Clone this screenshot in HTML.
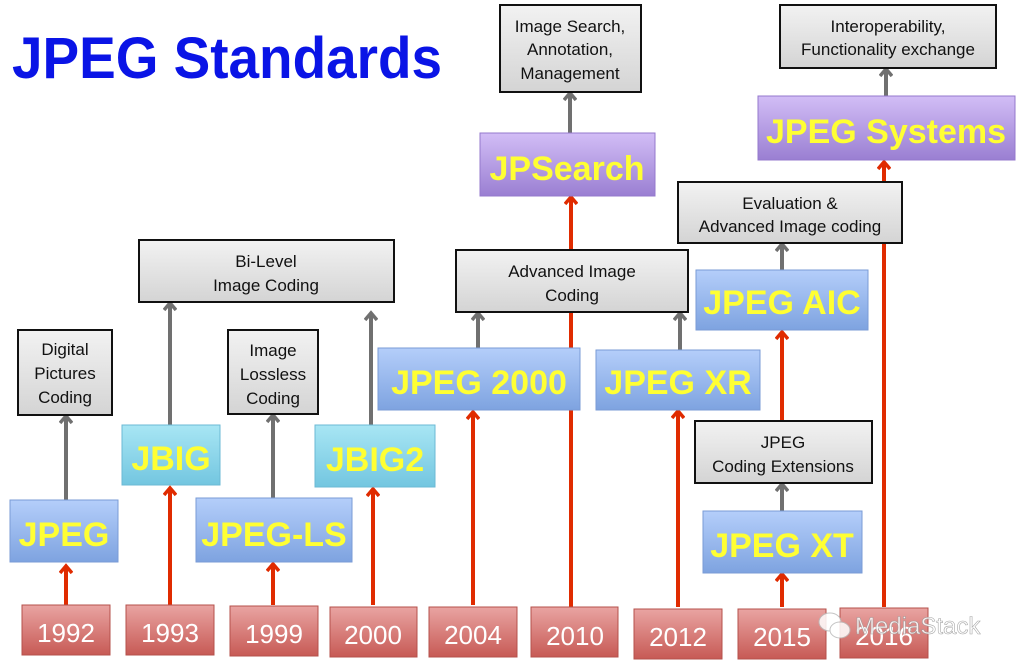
<!DOCTYPE html>
<html><head><meta charset="utf-8"><style>
html,body{margin:0;padding:0;background:#fff;}
svg{display:block;font-family:"Liberation Sans",sans-serif;}
</style></head><body>
<svg width="1024" height="669" viewBox="0 0 1024 669" xmlns="http://www.w3.org/2000/svg">
<defs>
<linearGradient id="bl" x1="0" y1="0" x2="0" y2="1"><stop offset="0" stop-color="#b4cefa"/><stop offset="1" stop-color="#7ea3e0"/></linearGradient>
<linearGradient id="cy" x1="0" y1="0" x2="0" y2="1"><stop offset="0" stop-color="#a8e6f4"/><stop offset="1" stop-color="#73c6e0"/></linearGradient>
<linearGradient id="pu" x1="0" y1="0" x2="0" y2="1"><stop offset="0" stop-color="#d2bdf6"/><stop offset="1" stop-color="#9a7fd2"/></linearGradient>
<linearGradient id="rd" x1="0" y1="0" x2="0" y2="1"><stop offset="0" stop-color="#e9a4a2"/><stop offset="1" stop-color="#c75a55"/></linearGradient>
<linearGradient id="gr" x1="0" y1="0" x2="0" y2="1"><stop offset="0" stop-color="#f2f2f2"/><stop offset="1" stop-color="#d4d4d4"/></linearGradient>
<marker id="ar" markerWidth="12" markerHeight="14" refX="9" refY="7" orient="auto" markerUnits="userSpaceOnUse" viewBox="0 0 12 14"><path d="M2,1 L9,7 L2,13" fill="none" stroke="#e02b00" stroke-width="3.5"/></marker>
<marker id="ag" markerWidth="12" markerHeight="14" refX="9" refY="7" orient="auto" markerUnits="userSpaceOnUse" viewBox="0 0 12 14"><path d="M2,1 L9,7 L2,13" fill="none" stroke="#707070" stroke-width="3.5"/></marker>
</defs>

<text x="12" y="78" font-size="58" font-weight="bold" fill="#0a14e6" textLength="430" lengthAdjust="spacingAndGlyphs">JPEG Standards</text>

<g stroke="#e02b00" stroke-width="4" fill="none">
<line x1="66" y1="605" x2="66" y2="566" marker-end="url(#ar)"/>
<line x1="170" y1="605" x2="170" y2="488" marker-end="url(#ar)"/>
<line x1="273" y1="605" x2="273" y2="564" marker-end="url(#ar)"/>
<line x1="373" y1="605" x2="373" y2="489" marker-end="url(#ar)"/>
<line x1="473" y1="605" x2="473" y2="412" marker-end="url(#ar)"/>
<line x1="571" y1="607" x2="571" y2="197" marker-end="url(#ar)"/>
<line x1="678" y1="607" x2="678" y2="411" marker-end="url(#ar)"/>
<line x1="782" y1="607" x2="782" y2="574" marker-end="url(#ar)"/>
<line x1="782" y1="421" x2="782" y2="332" marker-end="url(#ar)"/>
<line x1="884" y1="607" x2="884" y2="162" marker-end="url(#ar)"/>
</g>
<g stroke="#707070" stroke-width="4" fill="none">
<line x1="66" y1="500" x2="66" y2="416" marker-end="url(#ag)"/>
<line x1="170" y1="425" x2="170" y2="303" marker-end="url(#ag)"/>
<line x1="273" y1="498" x2="273" y2="415" marker-end="url(#ag)"/>
<line x1="371" y1="425" x2="371" y2="313" marker-end="url(#ag)"/>
<line x1="478" y1="348" x2="478" y2="313" marker-end="url(#ag)"/>
<line x1="680" y1="350" x2="680" y2="313" marker-end="url(#ag)"/>
<line x1="570" y1="133" x2="570" y2="93" marker-end="url(#ag)"/>
<line x1="886" y1="96" x2="886" y2="69" marker-end="url(#ag)"/>
<line x1="782" y1="272" x2="782" y2="244" marker-end="url(#ag)"/>
<line x1="782" y1="511" x2="782" y2="484" marker-end="url(#ag)"/>
</g>

<g fill="url(#gr)" stroke="#111" stroke-width="2">
<rect x="18" y="330" width="94" height="85"/>
<rect x="139" y="240" width="255" height="62"/>
<rect x="228" y="330" width="90" height="84"/>
<rect x="456" y="250" width="232" height="62"/>
<rect x="500" y="5" width="141" height="87"/>
<rect x="780" y="5" width="216" height="63"/>
<rect x="678" y="182" width="224" height="61"/>
<rect x="695" y="421" width="177" height="62"/>
</g>
<g font-size="17" fill="#111" text-anchor="middle">
<text x="65" y="355">Digital</text><text x="65" y="379">Pictures</text><text x="65" y="403">Coding</text>
<text x="266" y="267">Bi-Level</text><text x="266" y="291">Image Coding</text>
<text x="273" y="356">Image</text><text x="273" y="380">Lossless</text><text x="273" y="404">Coding</text>
<text x="572" y="277">Advanced Image</text><text x="572" y="301">Coding</text>
<text x="570" y="32">Image Search,</text><text x="570" y="55">Annotation,</text><text x="570" y="79">Management</text>
<text x="888" y="32">Interoperability,</text><text x="888" y="55">Functionality exchange</text>
<text x="790" y="209">Evaluation &amp;</text><text x="790" y="232">Advanced Image coding</text>
<text x="783" y="448">JPEG</text><text x="783" y="472">Coding Extensions</text>
</g>

<g stroke-width="1">
<rect x="10" y="500" width="108" height="62" fill="url(#bl)" stroke="#7a9bd6"/>
<rect x="122" y="425" width="98" height="60" fill="url(#cy)" stroke="#6bb9d4"/>
<rect x="196" y="498" width="156" height="64" fill="url(#bl)" stroke="#7a9bd6"/>
<rect x="315" y="425" width="120" height="62" fill="url(#cy)" stroke="#6bb9d4"/>
<rect x="378" y="348" width="202" height="62" fill="url(#bl)" stroke="#7a9bd6"/>
<rect x="596" y="350" width="164" height="60" fill="url(#bl)" stroke="#7a9bd6"/>
<rect x="696" y="270" width="172" height="60" fill="url(#bl)" stroke="#7a9bd6"/>
<rect x="703" y="511" width="159" height="62" fill="url(#bl)" stroke="#7a9bd6"/>
<rect x="480" y="133" width="175" height="63" fill="url(#pu)" stroke="#9478cc"/>
<rect x="758" y="96" width="257" height="64" fill="url(#pu)" stroke="#9478cc"/>
</g>
<g font-size="34" font-weight="bold" fill="#ffff33" text-anchor="middle">
<text x="64" y="546">JPEG</text>
<text x="171" y="470">JBIG</text>
<text x="274" y="546">JPEG-LS</text>
<text x="375" y="471">JBIG2</text>
<text x="479" y="394">JPEG 2000</text>
<text x="678" y="394">JPEG XR</text>
<text x="782" y="314">JPEG AIC</text>
<text x="782" y="557">JPEG XT</text>
<text x="567" y="180">JPSearch</text>
<text x="886" y="143">JPEG Systems</text>
</g>

<g fill="url(#rd)" stroke="#b5504b" stroke-width="1">
<rect x="22" y="605" width="88" height="50"/>
<rect x="126" y="605" width="88" height="50"/>
<rect x="230" y="606" width="88" height="50"/>
<rect x="330" y="607" width="87" height="50"/>
<rect x="429" y="607" width="88" height="50"/>
<rect x="531" y="607" width="87" height="50"/>
<rect x="634" y="609" width="88" height="50"/>
<rect x="738" y="609" width="88" height="50"/>
<rect x="840" y="608" width="88" height="50"/>
</g>
<g font-size="26" fill="#fff" text-anchor="middle">
<text x="66" y="642">1992</text>
<text x="170" y="642">1993</text>
<text x="274" y="643">1999</text>
<text x="373" y="644">2000</text>
<text x="473" y="644">2004</text>
<text x="575" y="645">2010</text>
<text x="678" y="646">2012</text>
<text x="782" y="646">2015</text>
<text x="884" y="645">2016</text>
</g>
<g opacity="0.85">
<ellipse cx="830" cy="622" rx="11" ry="9" fill="#fff" stroke="#bbb"/>
<ellipse cx="840" cy="630" rx="10" ry="8" fill="#fff" stroke="#bbb"/>
<text x="855" y="634" font-size="24" fill="#fff" stroke="#999" stroke-width="0.6">MediaStack</text>
</g>
</svg>
</body></html>
